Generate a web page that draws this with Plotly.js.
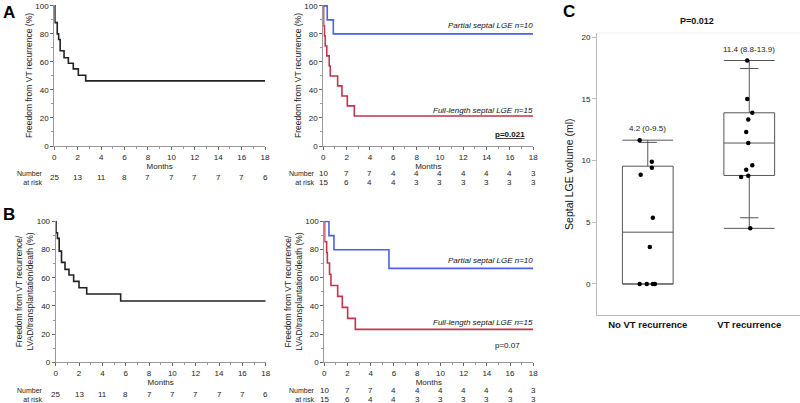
<!DOCTYPE html>
<html>
<head>
<meta charset="utf-8">
<script src="https://cdn.plot.ly/plotly-3.0.1.min.js"></script>
<style>
  html, body { margin: 0; padding: 0; background: #fff; }
  #chart { width: 800px; height: 403px; }
</style>
</head>
<body>
<div id="chart"></div>
<script>
// Kaplan-Meier curves (months, % event-free)
var tA = [0, 0.05, 0.25, 0.37, 0.5, 0.83, 1.2, 1.62, 2.05, 2.68, 18];
var sA = [100, 88, 80, 76, 68, 63, 59, 55, 50.5, 46.5, 46.5];

var tAPartial = [0, 0.34, 0.86, 18];
var sAPartial = [100, 90, 80, 80];
var tAFull = [0, 0.03, 0.1, 0.17, 0.3, 0.51, 0.6, 1.23, 1.6, 2.06, 2.66, 18];
var sAFull = [100, 85.7, 78.6, 71.4, 64.3, 57.1, 50, 42.9, 35.7, 28.6, 21.4, 21.4];

var tB = [0, 0.03, 0.15, 0.3, 0.5, 0.8, 1.14, 1.54, 2.0, 2.66, 5.57, 18];
var sB = [100, 92, 88, 79, 71, 66, 62, 57.5, 53, 48.5, 43.5, 43.5];

var tBPartial = [0, 0.4, 0.83, 5.57, 18];
var sBPartial = [100, 90, 80, 66.7, 66.7];
var tBFull = [0, 0.03, 0.2, 0.26, 0.45, 0.57, 1.15, 1.55, 2.01, 2.67, 18];
var sBFull = [100, 85.6, 78, 70.5, 62.5, 54.6, 46.8, 39, 31.2, 23.4, 23.4];

// numbers at risk
var riskMonths = [0, 2, 4, 6, 8, 10, 12, 14, 16, 18];
var riskAllA = [25, 13, 11, 8, 7, 7, 7, 7, 7, 6];
var riskPartialA = [10, 7, 7, 4, 4, 4, 4, 4, 4, 3];
var riskFullA = [15, 6, 4, 4, 3, 3, 3, 3, 3, 3];
var riskAllB = [25, 13, 11, 8, 7, 7, 7, 7, 7, 6];
var riskPartialB = [10, 7, 7, 4, 4, 4, 4, 4, 4, 3];
var riskFullB = [15, 6, 4, 4, 3, 3, 3, 3, 3, 3];

// panel C: septal LGE volume (ml)
var groups = ['No VT recurrence', 'VT recurrence'];
var noVtVolume = [11.66, 9.91, 9.43, 8.86, 5.37, 2.99, 0, 0, 0, 0];
var noVtJitter = [-0.08, 0.04, 0.04, -0.07, 0.05, 0.02, -0.08, -0.01, 0.05, 0.07];
var vtVolume = [18.12, 14.99, 13.88, 13.34, 12.32, 11.43, 9.62, 9.26, 8.78, 8.67, 4.51];
var vtJitter = [-0.02, -0.02, 0.03, -0.01, -0.03, -0.01, 0.03, -0.03, -0.01, -0.08, 0.01];
var boxQ1 = [0, 8.8];
var boxMedian = [4.2, 11.43];
var boxQ3 = [9.55, 13.88];
var boxMin = [0, 4.51];
var boxMax = [11.66, 18.12];
var capGroup = [0, 1, 1];
var capValue = [11.48, 17.47, 5.37];
var boxLabels = ['4.2 (0-9.5)', '11.4 (8.8-13.9)'];
var boxLabelY = [12.6, 19.0];

var FONT = 'Liberation Sans, Arial, Helvetica, sans-serif';
var BLUE = '#4a60ee';
var RED = '#c4344e';

function py(px) { return 1 - px / 403; }
function pxx(px) { return px / 800; }

function kmLine(t, s, color, xa, ya) {
  return {
    x: t, y: s, type: 'scatter', mode: 'lines',
    line: { shape: 'hv', color: color, width: 1.6 },
    xaxis: xa, yaxis: ya, hoverinfo: 'skip'
  };
}

var data = [
  kmLine(tA, sA, '#222', 'x', 'y'),
  kmLine(tAPartial, sAPartial, BLUE, 'x2', 'y2'),
  kmLine(tAFull, sAFull, RED, 'x2', 'y2'),
  kmLine(tB, sB, '#222', 'x3', 'y3'),
  kmLine(tBPartial, sBPartial, BLUE, 'x4', 'y4'),
  kmLine(tBFull, sBFull, RED, 'x4', 'y4'),
  {
    type: 'box', x: [0, 1], q1: boxQ1, median: boxMedian, q3: boxQ3,
    lowerfence: boxMin, upperfence: boxMax, width: 0.5, whiskerwidth: 1,
    fillcolor: 'rgba(0,0,0,0)', line: { color: '#555', width: 1 },
    boxpoints: false, xaxis: 'x5', yaxis: 'y5', hoverinfo: 'skip'
  },
  {
    type: 'scatter', mode: 'markers', x: capGroup, y: capValue,
    marker: { symbol: 'line-ew', size: 13, line: { color: '#555', width: 1 } },
    xaxis: 'x5', yaxis: 'y5', hoverinfo: 'skip'
  },
  {
    type: 'scatter', mode: 'markers',
    x: noVtJitter.map(function (d) { return 0 + d; }), y: noVtVolume,
    marker: { color: '#000', size: 4.5 }, xaxis: 'x5', yaxis: 'y5', cliponaxis: false
  },
  {
    type: 'scatter', mode: 'markers',
    x: vtJitter.map(function (d) { return 1 + d; }), y: vtVolume,
    marker: { color: '#000', size: 4.5 }, xaxis: 'x5', yaxis: 'y5', cliponaxis: false
  }
];

function kmX(domain, anchor) {
  return {
    domain: domain, anchor: anchor, range: [0, 18], tick0: 0, dtick: 2,
    ticks: 'outside', ticklen: 3, tickwidth: 1, tickcolor: '#666',
    showline: true, linecolor: '#999', linewidth: 1,
    showgrid: false, zeroline: false, tickfont: { size: 8, color: '#222' },
    minor: { dtick: 1, ticks: 'outside', ticklen: 2, tickcolor: '#999', showgrid: false },
    title: { text: 'Months', font: { size: 8, color: '#222' }, standoff: 0 }
  };
}
function kmY(domain, anchor, title) {
  return {
    domain: domain, anchor: anchor, range: [0, 100.6], tick0: 0, dtick: 20,
    ticks: 'outside', ticklen: 3, tickwidth: 1, tickcolor: '#666',
    showline: true, linecolor: '#999', linewidth: 1,
    showgrid: false, zeroline: false, tickfont: { size: 8, color: '#222' },
    minor: { dtick: 10, ticks: 'outside', ticklen: 2, tickcolor: '#999', showgrid: false },
    title: { text: title, font: { size: 8.5, color: '#222' }, standoff: 1 }
  };
}

var annotations = [];
function note(x, y, text, opts) {
  var a = { xref: 'paper', yref: 'paper', x: x, y: y, text: text, showarrow: false,
    font: { size: 8, color: '#222' }, xanchor: 'center', yanchor: 'middle' };
  for (var k in opts) a[k] = opts[k];
  annotations.push(a);
}
function riskRow(xa, values, ypx) {
  values.forEach(function (v, i) {
    annotations.push({ xref: xa, yref: 'paper', x: riskMonths[i], y: py(ypx), text: String(v),
      showarrow: false, font: { size: 8, color: '#222' }, yanchor: 'middle' });
  });
}

// panel letters
note(pxx(9), py(12.5), '<b>A</b>', { font: { size: 17, color: '#000' } });
note(pxx(9), py(214), '<b>B</b>', { font: { size: 17, color: '#000' } });
note(pxx(569), py(12), '<b>C</b>', { font: { size: 17, color: '#000' } });

// number at risk labels
[[30, 178], [302, 178], [30, 395], [302, 395]].forEach(function (p) {
  note(pxx(p[0]), py(p[1]), 'Number<br>at risk', { font: { size: 7, color: '#222' }, align: 'right' });
});
riskRow('x', riskAllA, 177);
riskRow('x2', riskPartialA, 173.3);
riskRow('x2', riskFullA, 182.7);
riskRow('x3', riskAllB, 394);
riskRow('x4', riskPartialB, 390);
riskRow('x4', riskFullB, 399.3);

// curve labels
note(pxx(535), py(26), '<i>Partial septal LGE n=10</i>', { xanchor: 'right', font: { size: 8, color: '#111' } });
note(pxx(535), py(110), '<i>Full-length septal LGE n=15</i>', { xanchor: 'right', font: { size: 8, color: '#111' } });
note(pxx(510), py(135), '<b><u>p=0.021</u></b>', { font: { size: 8, color: '#111' } });
note(pxx(535), py(260.7), '<i>Partial septal LGE n=10</i>', { xanchor: 'right', font: { size: 8, color: '#111' } });
note(pxx(535), py(322.3), '<i>Full-length septal LGE n=15</i>', { xanchor: 'right', font: { size: 8, color: '#111' } });
note(pxx(507), py(345.7), 'p=0.07', { font: { size: 8, color: '#111' } });

// panel C text
note(pxx(697), py(20.7), '<b>P=0.012</b>', { font: { size: 9, color: '#111' } });
boxLabels.forEach(function (t, i) {
  annotations.push({ xref: 'x5', yref: 'y5', x: i, y: boxLabelY[i], text: t, showarrow: false,
    font: { size: 8, color: '#222' }, yanchor: 'middle' });
});

var kmTitleA = 'Freedom from VT recurrence (%)';
var kmTitleB = 'Freedom from VT recurrence/<br>LVAD/transplantation/death (%)';

var layout = {
  width: 800, height: 403,
  margin: { l: 0, r: 0, t: 0, b: 0 },
  showlegend: false,
  paper_bgcolor: '#fff', plot_bgcolor: 'rgba(0,0,0,0)',
  font: { family: FONT, size: 8, color: '#222' },
  xaxis: kmX([0.0679, 0.3313], 'y'),
  yaxis: kmY([0.6377, 0.9876], 'x', kmTitleA),
  xaxis2: kmX([0.4041, 0.6666], 'y2'),
  yaxis2: kmY([0.6377, 0.9876], 'x2', kmTitleA),
  xaxis3: kmX([0.0696, 0.3321], 'y3'),
  yaxis3: kmY([0.1010, 0.4524], 'x3', kmTitleB),
  xaxis4: kmX([0.4054, 0.6666], 'y4'),
  yaxis4: kmY([0.1010, 0.4524], 'x4', kmTitleB),
  xaxis5: {
    domain: [0.7463, 1], anchor: 'y5', range: [-0.5, 1.5],
    tickvals: [0, 1], ticktext: groups.map(function (g) { return '<b>' + g + '</b>'; }),
    ticks: '', showline: true, linecolor: '#bbb', linewidth: 1,
    showgrid: false, zeroline: false, tickfont: { size: 9.5, color: '#111' }
  },
  yaxis5: {
    domain: [0.2176, 0.9181], anchor: 'x5', range: [-2.54, 20.35],
    tickvals: [0, 5, 10, 15, 20], ticks: 'outside', ticklen: 4, tickcolor: '#bbb',
    showline: true, linecolor: '#bbb', linewidth: 1,
    showgrid: false, zeroline: false, tickfont: { size: 8, color: '#222' },
    title: { text: 'Septal LGE volume (ml)', font: { size: 10.5, color: '#111' }, standoff: 5 }
  },
  shapes: [{
    type: 'line', xref: 'x5 domain', yref: 'y5 domain', x0: 0, x1: 1, y0: 1, y1: 1,
    line: { color: '#eee', width: 1 }
  }],
  annotations: annotations
};

Plotly.newPlot('chart', data, layout, { displayModeBar: false, staticPlot: true });
</script>
</body>
</html>
